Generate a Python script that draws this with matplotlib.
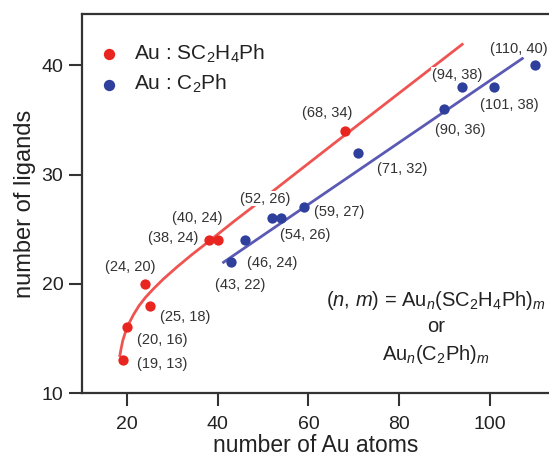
import numpy as np
import matplotlib
matplotlib.use('Agg')
import matplotlib.pyplot as plt

plt.rcParams['font.family'] = ['Liberation Sans', 'DejaVu Sans']
plt.rcParams['mathtext.fontset'] = 'custom'
plt.rcParams['mathtext.rm'] = 'Liberation Sans'
plt.rcParams['mathtext.it'] = 'Liberation Sans:italic'

# Au:SC2H4Ph clusters (n, m)
red_n = [19, 20, 24, 25, 38, 40, 68]
red_m = [13, 16, 20, 18, 24, 24, 34]
# Au:C2Ph clusters (n, m)
blue_n = [43, 46, 52, 54, 59, 71, 90, 94, 101, 110]
blue_m = [22, 24, 26, 26, 27, 32, 36, 38, 38, 40]

# fit curves
red_fit_x = [18.3, 18.6, 19.0, 19.6, 20.4, 21.4, 22.6, 24.0, 25.8, 28.0, 31.0, 34.2,
             37.6, 43.5, 47.9, 55.6, 65.5, 94.2]
red_fit_y = [13.3, 14.0, 14.8, 15.6, 16.4, 17.2, 18.0, 18.75, 19.55, 20.45, 21.55, 22.65,
             23.75, 25.7, 27.1, 29.6, 32.8, 42.0]
blue_fit_x = [41.0, 107.5]
blue_fit_y = [21.9, 40.7]

# label positions (data coords)
red_lab_x = [27.7, 27.7, 20.7, 32.8, 30.2, 35.4, 64.1]
red_lab_y = [12.7, 14.85, 21.55, 17.0, 24.15, 26.0, 35.6]
blue_lab_x = [45.0, 52.0, 50.5, 59.3, 66.7, 80.7, 93.6, 92.9, 104.3, 106.5]
blue_lab_y = [19.9, 21.9, 27.8, 24.45, 26.6, 30.55, 34.1, 39.1, 36.35, 41.5]

red_pt = '#e8251e'
red_ln = '#ee5552'
blue_pt = '#2f3f9c'
blue_ln = '#5a5ab4'
dark = '#333333'

fig = plt.figure(figsize=(5.49, 4.57), dpi=100)
ax = fig.add_axes([0.1494, 0.14, 0.852, 0.8293])

ax.plot(red_fit_x, red_fit_y, color=red_ln, lw=2.0, zorder=2, solid_capstyle='butt')
ax.plot(blue_fit_x, blue_fit_y, color=blue_ln, lw=2.0, zorder=2, solid_capstyle='butt')
ax.scatter(red_n, red_m, s=55, color=red_pt, zorder=4, label='Au : SC$_2$H$_4$Ph', linewidths=0)
ax.scatter(blue_n, blue_m, s=55, color=blue_pt, zorder=4, label='Au : C$_2$Ph', linewidths=0)

box = dict(fc='white', ec='none', pad=0.5)
for n, m, x, y in zip(red_n, red_m, red_lab_x, red_lab_y):
    ax.text(x, y, '(%d, %d)' % (n, m), fontsize=10.5, ha='center', va='center',
            color='#333333', bbox=box, zorder=3)
for n, m, x, y in zip(blue_n, blue_m, blue_lab_x, blue_lab_y):
    ax.text(x, y, '(%d, %d)' % (n, m), fontsize=10.5, ha='center', va='center',
            color='#333333', bbox=box, zorder=3)

ax.text(88.2, 18.5, r'($\mathit{n}$, $\mathit{m}$) = Au$_\mathit{n}$(SC$_2$H$_4$Ph)$_\mathit{m}$',
        fontsize=14.5, ha='center', va='center', color='#222222')
ax.text(88.2, 16.1, 'or', fontsize=14.5, ha='center', va='center', color='#222222')
ax.text(88.2, 13.5, r'Au$_\mathit{n}$(C$_2$Ph)$_\mathit{m}$',
        fontsize=14.5, ha='center', va='center', color='#222222')

ax.legend(loc='upper left', bbox_to_anchor=(0.03, 0.925), frameon=False, fontsize=15,
          handletextpad=0.6, handlelength=1.2, borderaxespad=0, borderpad=0,
          labelspacing=0.4, markerscale=1.1, labelcolor='#222222')

ax.set_xlim(10, 113.3)
ax.set_ylim(10, 44.7)
ax.set_xticks([20, 40, 60, 80, 100])
ax.set_yticks([10, 20, 30, 40])
ax.spines['right'].set_visible(False)
for s in ['left', 'bottom', 'top']:
    ax.spines[s].set_linewidth(1.6)
    ax.spines[s].set_color(dark)
ax.tick_params(direction='out', length=9.5, width=1.5, color=dark, labelsize=14,
               labelcolor='#222222')
ax.tick_params(axis='x', pad=7)
ax.tick_params(axis='y', pad=4)
ax.set_xlabel('number of Au atoms', fontsize=16.5, color='#222222', labelpad=0.5)
ax.set_ylabel('number of ligands', fontsize=17, color='#222222', labelpad=4)

fig.savefig('out.png', dpi=100)
